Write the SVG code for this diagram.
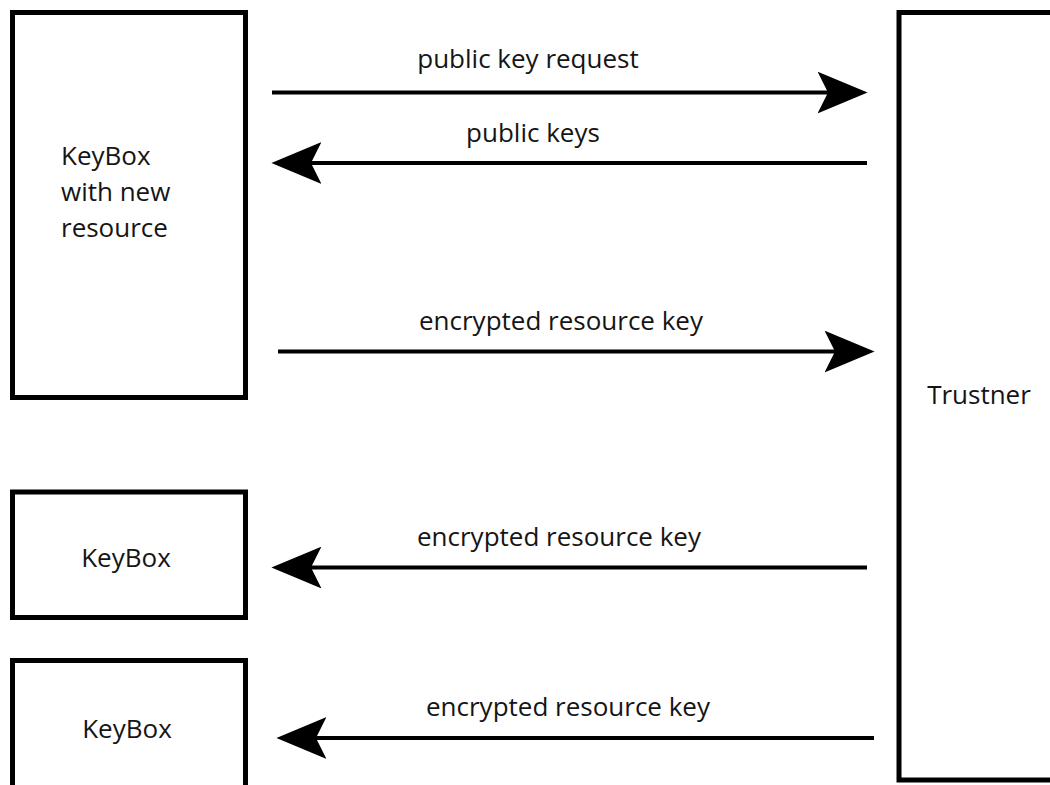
<svg xmlns="http://www.w3.org/2000/svg" width="1050" height="785" viewBox="0 0 1050 785">
  <style>
    .box { fill: #ffffff; stroke: #000000; stroke-width: 5; }
    .lbl { font-family: "Open Sans", "Noto Sans", "Liberation Sans", sans-serif; font-size: 26px; fill: #151515; }
    .conn { stroke: #000000; stroke-width: 4; fill: none; marker-end: url(#head); }
  </style>
  <defs>
    <marker id="head" markerUnits="userSpaceOnUse" markerWidth="50" markerHeight="42" refX="10" refY="20" orient="auto" viewBox="0 0 48 40">
      <path d="M0,0 L48,20 L0,40 L10,20 Z" fill="#000000"/>
    </marker>
  </defs>
  <rect width="1050" height="785" fill="#ffffff"/>

  <g id="keybox-new">
    <rect class="box" x="12.5" y="12.5" width="233" height="385"/>
    <text class="lbl" x="61" y="165">KeyBox</text>
    <text class="lbl" x="61" y="201">with new</text>
    <text class="lbl" x="61" y="237">resource</text>
  </g>

  <g id="keybox-2">
    <rect class="box" x="12.5" y="492" width="233" height="125.5"/>
    <text class="lbl" x="126" y="567" text-anchor="middle">KeyBox</text>
  </g>

  <g id="keybox-3">
    <rect class="box" x="12.5" y="660.5" width="233" height="140"/>
    <text class="lbl" x="127" y="738" text-anchor="middle">KeyBox</text>
  </g>

  <g id="trustner">
    <rect class="box" x="899" y="12.5" width="200" height="767.5"/>
    <text class="lbl" x="979" y="404" text-anchor="middle">Trustner</text>
  </g>

  <g id="connectors">
    <line class="conn" x1="272" y1="92.5" x2="828" y2="92.5"/>
    <text class="lbl" x="528" y="68" text-anchor="middle">public key request</text>

    <line class="conn" x1="867" y1="163" x2="311" y2="163"/>
    <text class="lbl" x="533" y="142" text-anchor="middle">public keys</text>

    <line class="conn" x1="278" y1="351.5" x2="835" y2="351.5"/>
    <text class="lbl" x="561" y="330" text-anchor="middle">encrypted resource key</text>

    <line class="conn" x1="867" y1="567.5" x2="311" y2="567.5"/>
    <text class="lbl" x="559" y="546" text-anchor="middle">encrypted resource key</text>

    <line class="conn" x1="874" y1="738" x2="316" y2="738"/>
    <text class="lbl" x="568" y="716" text-anchor="middle">encrypted resource key</text>
  </g>
</svg>
